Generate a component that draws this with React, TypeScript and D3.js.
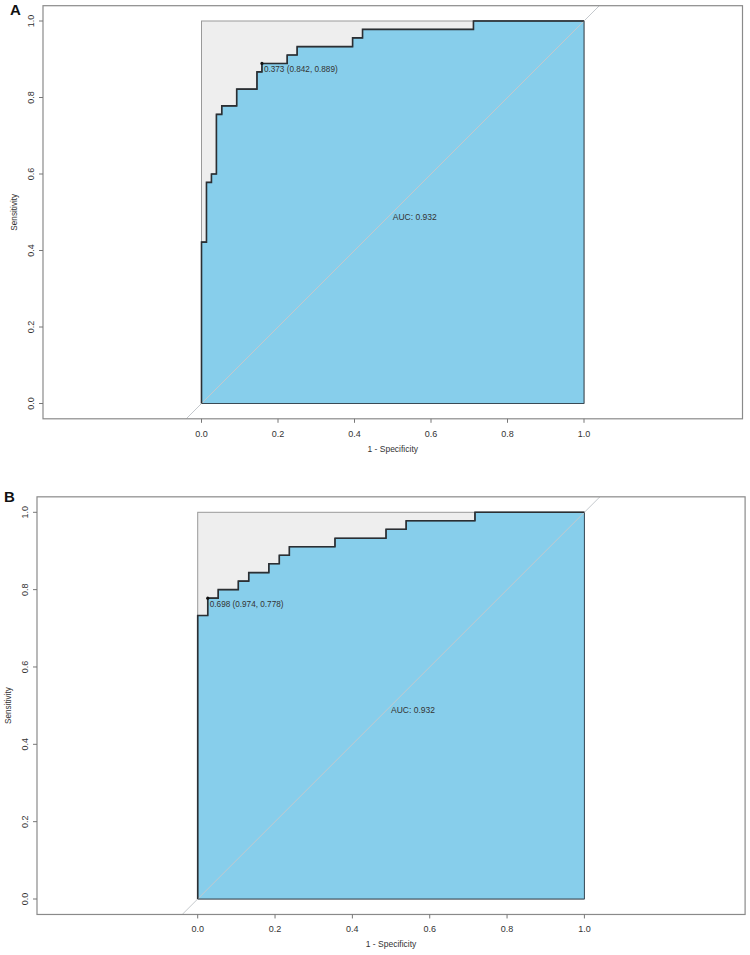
import React from "react";
import * as d3 from "d3";

// ---- data ----
const tickValues = [0, 0.2, 0.4, 0.6, 0.8, 1.0];
const tickLabels = ["0.0", "0.2", "0.4", "0.6", "0.8", "1.0"];

// ROC curve A: 1 - specificity (x) and sensitivity (y) at each step
const rocA_fpr = [0, 0, 0.013, 0.026, 0.039, 0.053, 0.092, 0.145, 0.158, 0.224, 0.25, 0.395, 0.421, 0.711, 1];
const rocA_tpr = [0, 0.422, 0.578, 0.6, 0.756, 0.778, 0.822, 0.867, 0.889, 0.911, 0.933, 0.956, 0.978, 1.0, 1.0];
const thresholdA = { label: "0.373 (0.842, 0.889)", spec: 0.842, sens: 0.889 };
const aucA = "AUC: 0.932";

// ROC curve B
const rocB_fpr = [0, 0, 0.026, 0.053, 0.105, 0.132, 0.184, 0.211, 0.237, 0.355, 0.487, 0.539, 0.717, 1];
const rocB_tpr = [0, 0.733, 0.778, 0.8, 0.822, 0.844, 0.867, 0.889, 0.911, 0.933, 0.956, 0.978, 1.0, 1.0];
const thresholdB = { label: "0.698 (0.974, 0.778)", spec: 0.974, sens: 0.778 };
const aucB = "AUC: 0.932";

const FONT = "'Liberation Sans', Arial, Helvetica, sans-serif";

type PanelProps = {
  letter: string;
  fpr: number[];
  tpr: number[];
  thr: { label: string; spec: number; sens: number };
  auc: string;
  x0: number;
  y0: number;
  unit: number;
  boxLeft: number;
  letterY: number;
  clipId: string;
};

function Panel(p: PanelProps) {
  const x = d3.scaleLinear().domain([0, 1]).range([p.x0, p.x0 + p.unit]);
  const y = d3.scaleLinear().domain([0, 1]).range([p.y0, p.y0 - p.unit]);
  const top = y(1.04);
  const bottom = y(-0.04);
  const cx = x(0.5);
  const left = p.boxLeft;
  const right = 2 * cx - left;

  const pts: [number, number][] = p.fpr.map((f, i) => [f, p.tpr[i]]);
  const line = d3
    .line<[number, number]>()
    .x((d) => x(d[0]))
    .y((d) => y(d[1]))
    .curve(d3.curveStepAfter);
  const curvePath = line(pts) || "";
  const aucPath = curvePath + `L${x(1)},${y(0)}L${x(0)},${y(0)}Z`;

  const dxMin = x.invert(left);
  const dxMax = x.invert(right);
  const diagStart = Math.max(-0.04, dxMin);
  const diagEnd = Math.min(1.04, dxMax);

  const tx = x(1 - p.thr.spec);
  const ty = y(p.thr.sens);

  return (
    <g>
      <defs>
        <clipPath id={p.clipId}>
          <rect x={left} y={top} width={right - left} height={bottom - top} />
        </clipPath>
      </defs>
      <text x={left - 33} y={p.letterY} fontFamily={FONT} fontWeight="bold" fontSize={15} fill="#111">
        {p.letter}
      </text>
      {/* max AUC polygon */}
      <rect x={x(0)} y={y(1)} width={x(1) - x(0)} height={y(0) - y(1)} fill="#eeeeee" stroke="#999" strokeWidth={1} />
      {/* AUC polygon */}
      <path d={aucPath} fill="#87ceeb" stroke="#3a4a55" strokeWidth={1} />
      {/* identity line */}
      <line
        x1={x(diagStart)}
        y1={y(diagStart)}
        x2={x(diagEnd)}
        y2={y(diagEnd)}
        stroke="#c4c8cc"
        strokeWidth={1}
        clipPath={`url(#${p.clipId})`}
      />
      {/* ROC curve */}
      <path d={curvePath} fill="none" stroke="#2b2f33" strokeWidth={1.6} />
      <circle cx={tx} cy={ty} r={1.6} fill="#111" />
      <text x={tx + 2} y={ty + 9} fontFamily={FONT} fontSize={8.2} fill="#333">
        {p.thr.label}
      </text>
      <text x={x(0.5)} y={y(0.5) + 7.5} fontFamily={FONT} fontSize={8.5} fill="#333">
        {p.auc}
      </text>
      {/* box */}
      <rect x={left} y={top} width={right - left} height={bottom - top} fill="none" stroke="#8a8a8a" strokeWidth={1.2} />
      {/* x axis */}
      {tickValues.map((v, i) => (
        <g key={"x" + i}>
          <line x1={x(v)} x2={x(v)} y1={bottom} y2={bottom + 4} stroke="#777" />
          <text x={x(v)} y={bottom + 18} textAnchor="middle" fontFamily={FONT} fontSize={9} fill="#333">
            {tickLabels[i]}
          </text>
        </g>
      ))}
      <text x={x(0.5)} y={bottom + 33} textAnchor="middle" fontFamily={FONT} fontSize={8.5} fill="#333">
        1 - Specificity
      </text>
      {/* y axis */}
      {tickValues.map((v, i) => (
        <g key={"y" + i}>
          <line x1={left - 4} x2={left} y1={y(v)} y2={y(v)} stroke="#777" />
          <text
            transform={`translate(${left - 9},${y(v)}) rotate(-90)`}
            textAnchor="middle"
            fontFamily={FONT}
            fontSize={9}
            fill="#333"
          >
            {tickLabels[i]}
          </text>
        </g>
      ))}
      <text
        transform={`translate(${left - 26},${y(0.5)}) rotate(-90)`}
        textAnchor="middle"
        fontFamily={FONT}
        fontSize={8.2}
        fill="#333"
      >
        Sensitivity
      </text>
    </g>
  );
}

export default function App() {
  return (
    <svg
      width={750}
      height={955}
      style={{ position: "absolute", left: 0, top: 0, background: "#fff" }}
    >
      <rect x={0} y={0} width={750} height={955} fill="#fff" />
      <Panel
        letter="A"
        fpr={rocA_fpr}
        tpr={rocA_tpr}
        thr={thresholdA}
        auc={aucA}
        x0={201.5}
        y0={403.5}
        unit={382.5}
        boxLeft={43}
        letterY={15}
        clipId="clipA"
      />
      <Panel
        letter="B"
        fpr={rocB_fpr}
        tpr={rocB_tpr}
        thr={thresholdB}
        auc={aucB}
        x0={197.7}
        y0={899}
        unit={386.7}
        boxLeft={37}
        letterY={502}
        clipId="clipB"
      />
    </svg>
  );
}
